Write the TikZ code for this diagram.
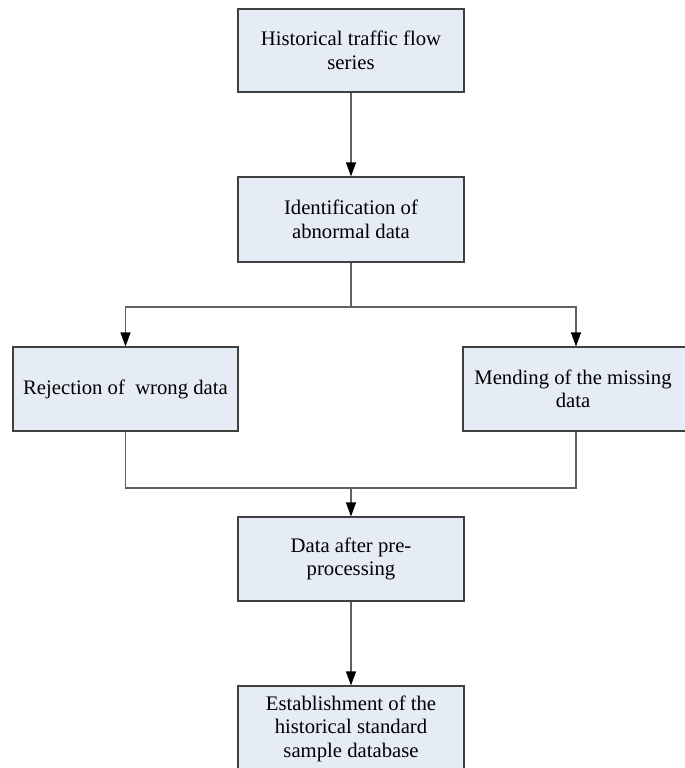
\documentclass[tikz,border=0pt]{standalone}
\usepackage{fontspec}
\setmainfont{Liberation Serif}
\usetikzlibrary{arrows.meta}
\definecolor{boxfill}{HTML}{E6ECF6}
\definecolor{boxline}{HTML}{404040}
\definecolor{conn}{HTML}{606060}
\begin{document}
\begin{tikzpicture}[x=1pt,y=-1pt,
  stepbox/.style={draw=boxline,fill=boxfill,line width=1.1pt,minimum width=226pt,minimum height=84pt,
    align=center,inner sep=0pt,font=\fontsize{20.7}{23.5}\selectfont},
  conline/.style={draw=conn,line width=1.1pt},
  arr/.style={conline,-{Triangle[length=14pt,width=10pt,fill=black,color=black]}}]
\useasboundingbox (0,0) rectangle (685,768);
\clip (0,0) rectangle (685,768);
\node[stepbox,minimum height=83pt] (b1) at (351,50.5) {Historical traffic flow\\series};
\node[stepbox,minimum height=85pt] (b2) at (351,219.5) {Identification of\\abnormal data};
\node[stepbox,minimum width=225pt] (b3) at (125.5,389) {Rejection of \ wrong data};
\node[stepbox] (b4) at (576,389) {\hspace*{-6pt}Mending of the missing\\\hspace*{-6pt}data};
\node[stepbox] (b5) at (351,559) {Data after pre-\\processing};
\node[stepbox,minimum height=85pt] (b6) at (351,728.5) {Establishment of the\\historical standard\\sample database};
\coordinate (j1) at (351,307);
\coordinate (j2) at (351,488);
\draw[arr] (b1.south) -- (b2.north);
\draw[conline] (b2.south) -- (j1);
\draw[arr] (j1) -| (b3.north);
\draw[arr] (j1) -| (b4.north);
\draw[conline] (b3.south) |- (j2);
\draw[conline] (b4.south) |- (j2);
\draw[arr] (j2) -- (b5.north);
\draw[arr] (b5.south) -- (b6.north);
\end{tikzpicture}
\end{document}
